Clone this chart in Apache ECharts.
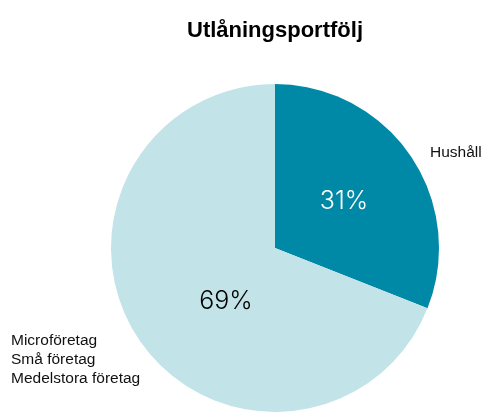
<!DOCTYPE html>
<html>
<head>
<meta charset="utf-8">
<script src="https://cdn.jsdelivr.net/npm/echarts@6/dist/echarts.min.js"></script>
<style>html,body{margin:0;padding:0;background:#fff;}#c{width:484px;height:414px;}</style>
</head>
<body>
<div id="c"></div>
<script>
const titleText = 'Utlåningsportfölj';
const categories = ['Hushåll', 'Microföretag\nSmå företag\nMedelstora företag'];
const values = [31, 69];
const colors = ['#0089a7', '#c2e4e9'];
const pctColors = ['#ffffff', '#000000'];

const chart = echarts.init(document.getElementById('c'), null, {renderer: 'canvas'});
const namePos = [{x: 430, y: 153}, {x: 11, y: 360}];
const pctPos = [{x: 344, y: 201}, {x: 226, y: 301}];
const data = categories.map((c, i) => ({
  name: c, value: values[i], itemStyle: {color: colors[i]}, label: {color: pctColors[i]}
}));

chart.setOption({
  animation: false,
  title: {
    text: titleText, left: 270, top: 15, textAlign: 'center',
    textStyle: {fontFamily: 'Liberation Sans, Arial, sans-serif', fontSize: 22, fontWeight: 'bold', color: '#000'}
  },
  series: [
    {
      type: 'pie', center: [275, 248], radius: 164, startAngle: 90, clockwise: true,
      data: data,
      label: {
        show: true, position: 'inside',
        formatter: p => p.value + '%',
        fontFamily: 'Inter, Liberation Sans, sans-serif', fontWeight: 300, fontSize: 25
      },
      labelLayout: p => ({x: pctPos[p.dataIndex].x, y: pctPos[p.dataIndex].y, align: 'center', verticalAlign: 'middle'}),
      labelLine: {show: false},
      emphasis: {disabled: true}
    },
    {
      type: 'pie', center: [275, 248], radius: 164, startAngle: 90, clockwise: true, silent: true,
      data: categories.map((c, i) => ({name: c, value: values[i], itemStyle: {color: 'rgba(0,0,0,0)'}})),
      label: {
        show: true, position: 'outside', formatter: '{b}', overflow: 'none', width: 300,
        fontFamily: 'Liberation Sans, Arial, sans-serif', fontSize: 15.5, lineHeight: 19, color: '#111'
      },
      labelLayout: p => ({x: namePos[p.dataIndex].x, y: namePos[p.dataIndex].y, align: 'left', verticalAlign: 'middle'}),
      labelLine: {show: false}
    }
  ]
});
</script>
</body>
</html>
